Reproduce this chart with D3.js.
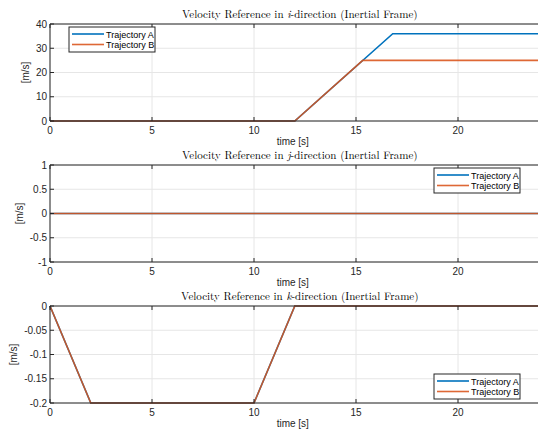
<!DOCTYPE html>
<html>
<head>
<meta charset="utf-8">
<style>
  body { margin: 0; background: #fff; }
  svg text { font-family: "Liberation Sans", Arial, sans-serif; }
</style>
</head>
<body>
<svg width="538" height="439"></svg>
<script src="https://cdnjs.cloudflare.com/ajax/libs/d3/7.8.5/d3.min.js"></script>
<script>
// time breakpoints [s] and velocity values [m/s]
var seriesNames = ["Trajectory A", "Trajectory B"];
var colors = ["#0072BD", "#D95319"];

var iTime = [[0, 12, 16.8, 24], [0, 12, 15.33, 24]];
var iVel  = [[0, 0, 36, 36],    [0, 0, 25, 25]];

var jTime = [[0, 24], [0, 24]];
var jVel  = [[0, 0],  [0, 0]];

var kTime = [[0, 2, 10, 12, 24], [0, 2, 10, 12, 24]];
var kVel  = [[0, -0.2, -0.2, 0, 0], [0, -0.2, -0.2, 0, 0]];

var xTicks = [0, 5, 10, 15, 20];
var iTicks = [0, 10, 20, 30, 40];
var jTicks = [-1, -0.5, 0, 0.5, 1];
var kTicks = [-0.2, -0.15, -0.1, -0.05, 0];

var panels = [
  {dir: "i", top: 24, bottom: 121, yDom: [0, 40], yTicks: iTicks, t: iTime, v: iVel, legend: "tl"},
  {dir: "j", top: 165, bottom: 262, yDom: [-1, 1], yTicks: jTicks, t: jTime, v: jVel, legend: "tr"},
  {dir: "k", top: 306, bottom: 403, yDom: [-0.2, 0], yTicks: kTicks, t: kTime, v: kVel, legend: "br"}
];

var svg = d3.select("svg");
var left = 50, right = 50 + 24 * 20.4;
var axisCol = "#262626";

var x = d3.scaleLinear().domain([0, 24]).range([left, right]);

panels.forEach(function(p) {
  var y = d3.scaleLinear().domain(p.yDom).range([p.bottom, p.top]);
  var g = svg.append("g");

  // grid
  g.selectAll(".gx").data(xTicks).enter().append("line")
    .attr("x1", d => x(d)).attr("x2", d => x(d))
    .attr("y1", p.top).attr("y2", p.bottom)
    .attr("stroke", "#e6e6e6").attr("stroke-width", 1);
  g.selectAll(".gy").data(p.yTicks).enter().append("line")
    .attr("x1", left).attr("x2", right)
    .attr("y1", d => y(d)).attr("y2", d => y(d))
    .attr("stroke", "#e6e6e6").attr("stroke-width", 1);

  // lines
  var line = d3.line().x(d => x(d[0])).y(d => y(d[1]));
  p.t.forEach(function(ts, s) {
    var pts = ts.map((tt, k) => [tt, p.v[s][k]]);
    g.append("path").attr("d", line(pts))
      .attr("fill", "none").attr("stroke", colors[s])
      .attr("stroke-width", 1.6)
      .attr("stroke-opacity", s == 1 ? 0.88 : 1);
  });

  // box
  g.append("line").attr("x1", left).attr("x2", right).attr("y1", p.top).attr("y2", p.top)
    .attr("stroke", axisCol).attr("stroke-width", 1);
  g.append("line").attr("x1", left).attr("x2", right).attr("y1", p.bottom).attr("y2", p.bottom)
    .attr("stroke", axisCol).attr("stroke-width", 1);
  g.append("line").attr("x1", left).attr("x2", left).attr("y1", p.top).attr("y2", p.bottom)
    .attr("stroke", axisCol).attr("stroke-width", 1);

  // ticks (inward)
  xTicks.forEach(function(d) {
    g.append("line").attr("x1", x(d)).attr("x2", x(d)).attr("y1", p.bottom).attr("y2", p.bottom - 4)
      .attr("stroke", axisCol);
    g.append("line").attr("x1", x(d)).attr("x2", x(d)).attr("y1", p.top).attr("y2", p.top + 4)
      .attr("stroke", axisCol);
  });
  p.yTicks.forEach(function(d) {
    g.append("line").attr("x1", left).attr("x2", left + 4).attr("y1", y(d)).attr("y2", y(d))
      .attr("stroke", axisCol);
  });

  // tick labels
  g.selectAll(".xl").data(xTicks).enter().append("text")
    .attr("x", d => x(d)).attr("y", p.bottom + 13)
    .attr("text-anchor", "middle").attr("font-size", 10).attr("fill", axisCol)
    .text(d => d);
  g.selectAll(".yl").data(p.yTicks).enter().append("text")
    .attr("x", left - 3).attr("y", d => y(d) + 3.5)
    .attr("text-anchor", "end").attr("font-size", 10).attr("fill", axisCol)
    .text(d => d);

  // axis labels
  g.append("text").attr("x", (left + right) / 2 - 2).attr("y", p.bottom + 24)
    .attr("text-anchor", "middle").attr("font-size", 10).attr("fill", axisCol)
    .text("time [s]");
  var yl = p.dir == "i" ? 29 : (p.dir == "j" ? 23 : 17);
  g.append("text")
    .attr("transform", "translate(" + yl + "," + ((p.top + p.bottom) / 2) + ") rotate(-90)")
    .attr("text-anchor", "middle").attr("font-size", 10).attr("fill", axisCol)
    .text("[m/s]");

  // title
  var tt = g.append("text").attr("x", (left + right) / 2 + 5).attr("y", p.top - 6)
    .attr("text-anchor", "middle").attr("font-size", 11).attr("fill", "#000")
    .style("font-family", "'Latin Modern Roman', 'DejaVu Serif Condensed', 'Liberation Serif', serif");
  tt.append("tspan").text("Velocity Reference in ");
  tt.append("tspan").attr("font-style", "italic").text(p.dir);
  tt.append("tspan").text("-direction (Inertial Frame)");

  // legend
  var lw = 86, lh = 25, lx, ly;
  if (p.legend == "tl") { lx = 69; ly = 27; }
  else if (p.legend == "tr") { lx = 434; ly = p.top + 3; }
  else { lx = 434; ly = p.bottom - 29; }
  var lg = g.append("g").attr("transform", "translate(" + lx + "," + ly + ")");
  lg.append("rect").attr("width", lw).attr("height", lh)
    .attr("fill", "#fff").attr("stroke", axisCol).attr("stroke-width", 1);
  seriesNames.forEach(function(n, s) {
    var yy = 7 + s * 10.5;
    lg.append("line").attr("x1", 3).attr("x2", 35).attr("y1", yy).attr("y2", yy)
      .attr("stroke", colors[s]).attr("stroke-width", 1.6)
      .attr("stroke-opacity", s == 1 ? 0.88 : 1);
    lg.append("text").attr("x", 37).attr("y", yy + 3.5)
      .attr("font-size", 9).attr("fill", "#000").text(n);
  });
});
</script>
</body>
</html>
